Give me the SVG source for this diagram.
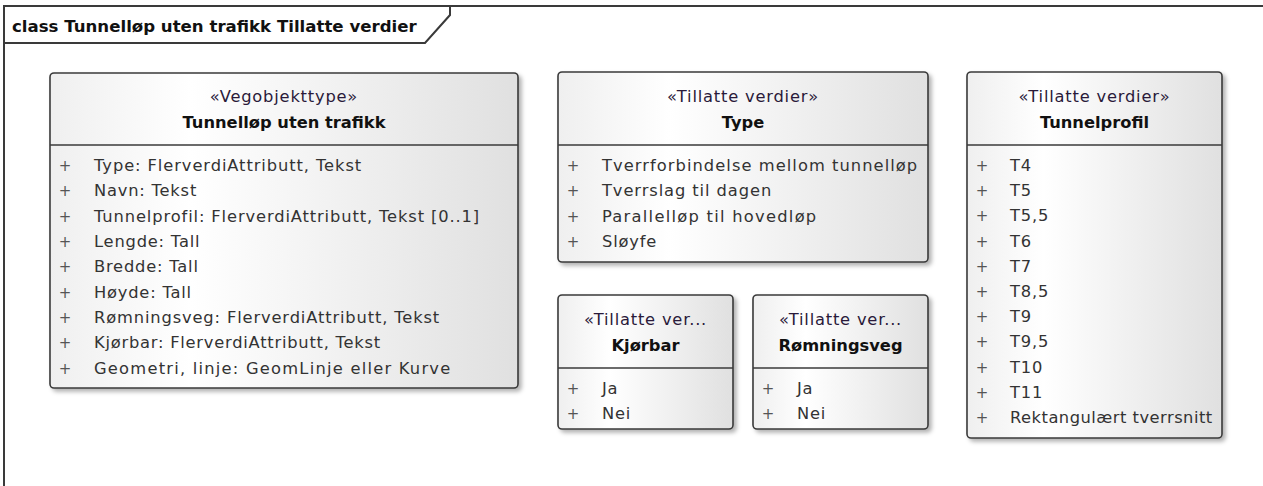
<svg xmlns="http://www.w3.org/2000/svg" width="1263" height="486" viewBox="0 0 1263 486">
  <defs>
    <linearGradient id="fillGrad" x1="0" y1="0" x2="1" y2="0">
      <stop offset="0" stop-color="#efefef"/>
      <stop offset="0.3" stop-color="#ffffff"/>
      <stop offset="1" stop-color="#e0e0e0"/>
    </linearGradient>
    <filter id="shadow" x="-5%" y="-5%" width="115%" height="115%">
      <feDropShadow dx="3" dy="3" stdDeviation="2" flood-color="#000" flood-opacity="0.3"/>
    </filter>
  </defs>
  <style>
    .frame { fill: none; stroke: #3a3a3a; stroke-width: 2; }
    .box { fill: url(#fillGrad); stroke: #3a3a3a; stroke-width: 1.6; filter: url(#shadow); }
    .div { stroke: #3a3a3a; stroke-width: 1.6; }
    .title { font-family: "DejaVu Sans", sans-serif; font-weight: bold; font-size: 16.6px; fill: #111; }
    .stereo { font-family: "DejaVu Sans", sans-serif; font-size: 16.3px; letter-spacing: 0.8px; fill: #2a1a3a; text-anchor: middle; }
    .name { font-family: "DejaVu Sans", sans-serif; font-weight: bold; font-size: 16.3px; fill: #111; text-anchor: middle; }
    .attr { font-family: "DejaVu Sans", sans-serif; font-size: 16.3px; letter-spacing: 0.8px; fill: #333; }
    .plus { font-family: "DejaVu Sans", sans-serif; font-size: 15px; fill: #555; text-anchor: middle; }
  </style>
  <rect width="1263" height="486" fill="#ffffff"/>
  <g id="frame">
    <path class="frame" d="M4,500 L4,6 L1280,6"/>
    <path class="frame" d="M4,43 L425,43 L450,15 L450,6"/>
    <text class="title" x="12" y="32">class Tunnelløp uten trafikk Tillatte verdier</text>
  </g>
  <g id="connectors"></g>
  <g id="node-tunnellop">
    <rect class="box" x="50" y="73" width="468" height="315" rx="4"/>
    <line class="div" x1="50" y1="145" x2="518" y2="145"/>
    <text class="stereo" x="284" y="102">«Vegobjekttype»</text>
    <text class="name" x="284" y="128">Tunnelløp uten trafikk</text>
    <g class="plus">
      <text x="65" y="171">+</text><text x="65" y="196.3">+</text><text x="65" y="221.7">+</text>
      <text x="65" y="247">+</text><text x="65" y="272.3">+</text><text x="65" y="297.7">+</text>
      <text x="65" y="323">+</text><text x="65" y="348.3">+</text><text x="65" y="373.7">+</text>
    </g>
    <text class="attr" x="94" y="171" textLength="268" lengthAdjust="spacing">Type: FlerverdiAttributt, Tekst</text>
    <text class="attr" x="94" y="196.3">Navn: Tekst</text>
    <text class="attr" x="94" y="221.7" textLength="386" lengthAdjust="spacing">Tunnelprofil: FlerverdiAttributt, Tekst [0..1]</text>
    <text class="attr" x="94" y="247">Lengde: Tall</text>
    <text class="attr" x="94" y="272.3">Bredde: Tall</text>
    <text class="attr" x="94" y="297.7">Høyde: Tall</text>
    <text class="attr" x="94" y="323" textLength="346" lengthAdjust="spacing">Rømningsveg: FlerverdiAttributt, Tekst</text>
    <text class="attr" x="94" y="348.3" textLength="287" lengthAdjust="spacing">Kjørbar: FlerverdiAttributt, Tekst</text>
    <text class="attr" x="94" y="373.7" textLength="357" lengthAdjust="spacing">Geometri, linje: GeomLinje eller Kurve</text>
  </g>
  <g id="node-type">
    <rect class="box" x="558" y="72" width="370" height="190" rx="4"/>
    <line class="div" x1="558" y1="145" x2="928" y2="145"/>
    <text class="stereo" x="743" y="102">«Tillatte verdier»</text>
    <text class="name" x="743" y="128">Type</text>
    <g class="plus">
      <text x="573" y="171">+</text><text x="573" y="196.3">+</text><text x="573" y="221.7">+</text><text x="573" y="247">+</text>
    </g>
    <text class="attr" x="602" y="171" textLength="316" lengthAdjust="spacing">Tverrforbindelse mellom tunnelløp</text>
    <text class="attr" x="602" y="196.3" textLength="170" lengthAdjust="spacing">Tverrslag til dagen</text>
    <text class="attr" x="602" y="221.7" textLength="215" lengthAdjust="spacing">Parallelløp til hovedløp</text>
    <text class="attr" x="602" y="247">Sløyfe</text>
  </g>
  <g id="node-kjorbar">
    <rect class="box" x="558" y="295" width="175" height="134" rx="4"/>
    <line class="div" x1="558" y1="368" x2="733" y2="368"/>
    <text class="stereo" x="645.5" y="325">«Tillatte ver...</text>
    <text class="name" x="645.5" y="351">Kjørbar</text>
    <g class="plus"><text x="573" y="394">+</text><text x="573" y="419">+</text></g>
    <text class="attr" x="602" y="394">Ja</text>
    <text class="attr" x="602" y="419">Nei</text>
  </g>
  <g id="node-romningsveg">
    <rect class="box" x="753" y="295" width="175" height="134" rx="4"/>
    <line class="div" x1="753" y1="368" x2="928" y2="368"/>
    <text class="stereo" x="840.5" y="325">«Tillatte ver...</text>
    <text class="name" x="840.5" y="351">Rømningsveg</text>
    <g class="plus"><text x="768" y="394">+</text><text x="768" y="419">+</text></g>
    <text class="attr" x="797" y="394">Ja</text>
    <text class="attr" x="797" y="419">Nei</text>
  </g>
  <g id="node-tunnelprofil">
    <rect class="box" x="967" y="72" width="255" height="366" rx="4"/>
    <line class="div" x1="967" y1="145" x2="1222" y2="145"/>
    <text class="stereo" x="1094.5" y="102">«Tillatte verdier»</text>
    <text class="name" x="1094.5" y="128">Tunnelprofil</text>
    <g class="plus">
      <text x="982" y="171">+</text><text x="982" y="196.2">+</text><text x="982" y="221.4">+</text>
      <text x="982" y="246.6">+</text><text x="982" y="271.8">+</text><text x="982" y="297">+</text>
      <text x="982" y="322.2">+</text><text x="982" y="347.4">+</text><text x="982" y="372.6">+</text>
      <text x="982" y="397.8">+</text><text x="982" y="423">+</text>
    </g>
    <text class="attr" x="1010" y="171">T4</text>
    <text class="attr" x="1010" y="196.2">T5</text>
    <text class="attr" x="1010" y="221.4">T5,5</text>
    <text class="attr" x="1010" y="246.6">T6</text>
    <text class="attr" x="1010" y="271.8">T7</text>
    <text class="attr" x="1010" y="297">T8,5</text>
    <text class="attr" x="1010" y="322.2">T9</text>
    <text class="attr" x="1010" y="347.4">T9,5</text>
    <text class="attr" x="1010" y="372.6">T10</text>
    <text class="attr" x="1010" y="397.8">T11</text>
    <text class="attr" x="1010" y="423" textLength="203" lengthAdjust="spacing">Rektangulært tverrsnitt</text>
  </g>
</svg>
